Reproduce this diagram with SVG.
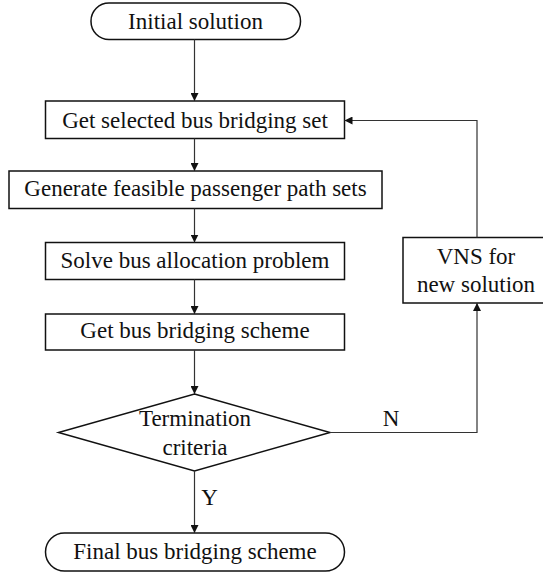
<svg xmlns="http://www.w3.org/2000/svg" width="543" height="573" viewBox="0 0 543 573">
  <style>
    .box { fill: #fff; stroke: #111; stroke-width: 1.5; }
    .lbl { font-family: "Liberation Serif", "Times New Roman", serif; font-size: 23px; fill: #111; text-anchor: middle; }
    .edge { fill: none; stroke: #333; stroke-width: 1.2; }
  </style>
  <defs>
    <marker id="arr" viewBox="0 0 10 10" refX="10" refY="5" markerWidth="8" markerHeight="8" markerUnits="userSpaceOnUse" orient="auto">
      <path d="M0,0 L10,5 L0,10 z" fill="#111"/>
    </marker>
  </defs>

  <g id="n-initial">
    <rect class="box" x="91" y="3" width="209.5" height="36.5" rx="18" ry="18"/>
    <text class="lbl" x="195.5" y="28.5">Initial solution</text>
  </g>
  <g id="n-selected">
    <rect class="box" x="45.5" y="101" width="299" height="37.5"/>
    <text class="lbl" x="195" y="127.5">Get selected bus bridging set</text>
  </g>
  <g id="n-generate">
    <rect class="box" x="9" y="171" width="373" height="37.5"/>
    <text class="lbl" x="195.5" y="196">Generate feasible passenger path sets</text>
  </g>
  <g id="n-solve">
    <rect class="box" x="45.5" y="242.5" width="299" height="37"/>
    <text class="lbl" x="195" y="267.5">Solve bus allocation problem</text>
  </g>
  <g id="n-scheme">
    <rect class="box" x="45.5" y="314" width="299" height="36"/>
    <text class="lbl" x="195" y="337.5">Get bus bridging scheme</text>
  </g>
  <g id="n-vns">
    <rect class="box" x="403" y="237.5" width="145" height="65.5"/>
    <text class="lbl" x="476" y="264">VNS for</text>
    <text class="lbl" x="476" y="292">new solution</text>
  </g>
  <g id="n-criteria">
    <polygon class="box" points="194.5,394 330,432.5 194.5,471 58.5,432.5"/>
    <text class="lbl" x="195" y="426">Termination</text>
    <text class="lbl" x="195" y="455">criteria</text>
  </g>
  <g id="n-final">
    <rect class="box" x="45.5" y="533" width="299" height="38" rx="19" ry="19"/>
    <text class="lbl" x="195" y="559">Final bus bridging scheme</text>
  </g>

  <g id="connectors">
    <line class="edge" x1="194.5" y1="39.5" x2="194.5" y2="101" marker-end="url(#arr)"/>
    <line class="edge" x1="194.5" y1="138.5" x2="194.5" y2="171" marker-end="url(#arr)"/>
    <line class="edge" x1="194.5" y1="208.5" x2="194.5" y2="242.5" marker-end="url(#arr)"/>
    <line class="edge" x1="194.5" y1="279.5" x2="194.5" y2="314" marker-end="url(#arr)"/>
    <line class="edge" x1="194.5" y1="350" x2="194.5" y2="394" marker-end="url(#arr)"/>
    <line class="edge" x1="194.5" y1="471" x2="194.5" y2="533" marker-end="url(#arr)"/>
    <polyline class="edge" points="330,432.5 477,432.5 477,303" marker-end="url(#arr)"/>
    <polyline class="edge" points="477,237.5 477,120.5 344.5,120.5" marker-end="url(#arr)"/>
    <text class="lbl" x="391" y="426">N</text>
    <text class="lbl" x="209.5" y="505">Y</text>
  </g>
</svg>
